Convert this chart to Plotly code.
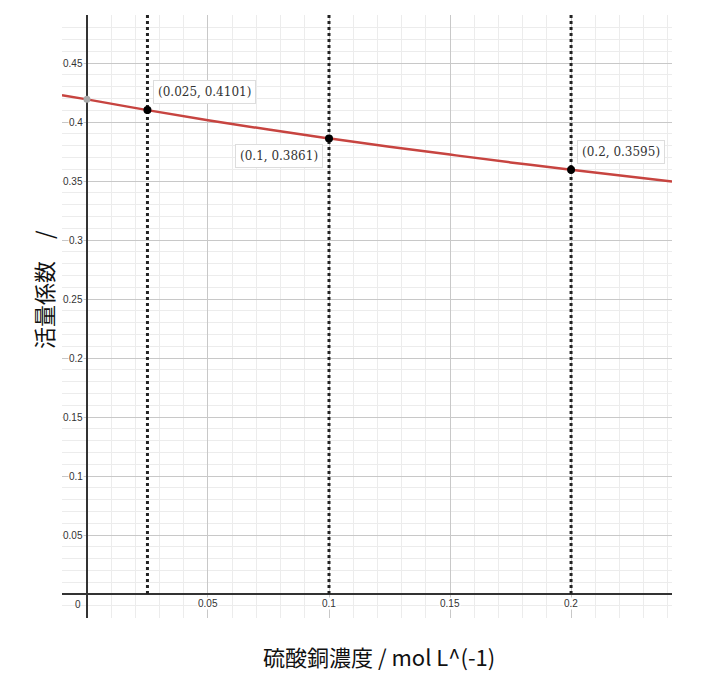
import plotly.graph_objects as go

# ---- data ----
curve_x = [-0.0103, 0.0, 0.025, 0.05, 0.075, 0.1, 0.125, 0.15, 0.175, 0.2, 0.2417]
curve_y = [0.4228, 0.4192, 0.4101, 0.4015, 0.3936, 0.3861, 0.3791, 0.3724, 0.3658, 0.3595, 0.3495]
pts_x = [0.025, 0.1, 0.2]
pts_y = [0.4101, 0.3861, 0.3595]
pt_labels = ["(0.025, 0.4101)", "(0.1, 0.3861)", "(0.2, 0.3595)"]
intercept_x = [0.0]
intercept_y = [0.4192]
xticks = [0.05, 0.1, 0.15, 0.2]
xtick_labels = ["0.05", "0.1", "0.15", "0.2"]
yticks = [0.05, 0.1, 0.15, 0.2, 0.25, 0.3, 0.35, 0.4, 0.45]
ytick_labels = ["0.05", "0.1", "0.15", "0.2", "0.25", "0.3", "0.35", "0.4", "0.45"]
x_title = "硫酸銅濃度 / mol L^(-1)"
y_title = "活量係数　/"

XR = [-0.0103, 0.2417]
YR = [-0.0203, 0.4907]

fig = go.Figure()

# vertical dotted lines
for xv in pts_x:
    fig.add_trace(go.Scatter(x=[xv, xv], y=[0, YR[1] + 0.01], mode="lines",
                             line=dict(color="#222222", width=3, dash="dot"),
                             hoverinfo="skip", showlegend=False))

fig.add_trace(go.Scatter(x=curve_x, y=curve_y, mode="lines",
                         line=dict(color="#c74440", width=2.5, shape="spline"),
                         showlegend=False))
fig.add_trace(go.Scatter(x=intercept_x, y=intercept_y, mode="markers",
                         marker=dict(color="#aaaaaa", size=7), showlegend=False))
fig.add_trace(go.Scatter(x=pts_x, y=pts_y, mode="markers",
                         marker=dict(color="#000000", size=8), showlegend=False))

annotations = []
placements = [("left", "bottom", 6, 6), ("right", "top", -6, -6), ("left", "bottom", 6, 6)]
for xv, yv, lab, (xa, ya, xs, ys) in zip(pts_x, pts_y, pt_labels, placements):
    annotations.append(dict(x=xv, y=yv, xref="x", yref="y", text=lab, showarrow=False,
                            xanchor=xa, yanchor=ya, xshift=xs, yshift=ys,
                            font=dict(family="DejaVu Serif", size=12, color="#333333"),
                            bgcolor="white", bordercolor="#dddddd", borderwidth=1, borderpad=4))

for yv, lab in zip(yticks, ytick_labels):
    annotations.append(dict(x=0, y=yv, xref="x", yref="y", text=lab, showarrow=False,
                            xanchor="right", yanchor="middle", xshift=-3,
                            font=dict(family="Liberation Sans", size=10, color="#333333"),
                            bgcolor="white", borderpad=0))
for xv, lab in zip(xticks, xtick_labels):
    annotations.append(dict(x=xv, y=0, xref="x", yref="y", text=lab, showarrow=False,
                            xanchor="center", yanchor="top", yshift=-3,
                            font=dict(family="Liberation Sans", size=10, color="#333333"),
                            bgcolor="white", borderpad=0))
annotations.append(dict(x=0, y=0, xref="x", yref="y", text="0", showarrow=False,
                        xanchor="right", yanchor="top", xshift=-4, yshift=-3,
                        font=dict(family="Liberation Sans", size=10, color="#333333")))

annotations.append(dict(x=0.52, y=-0.063, xref="paper", yref="paper", text=x_title,
                        showarrow=False, xanchor="center", yanchor="middle",
                        font=dict(family="Noto Sans CJK JP", size=22, color="#111111")))
annotations.append(dict(x=-0.03, y=0.545, xref="paper", yref="paper", text=y_title,
                        showarrow=False, textangle=-90, xanchor="center", yanchor="middle",
                        font=dict(family="Noto Sans CJK JP", size=22, color="#111111")))

axis_common = dict(showticklabels=False, ticks="", showline=False,
                   gridcolor="#c8c8c8", gridwidth=1,
                   zeroline=True, zerolinecolor="#333333", zerolinewidth=1.5,
                   minor=dict(dtick=0.01, gridcolor="#ececec", gridwidth=1, showgrid=True))

fig.update_layout(
    width=712, height=691,
    margin=dict(l=62, r=40, t=15, b=73),
    paper_bgcolor="white", plot_bgcolor="white",
    xaxis=dict(range=XR, tick0=0, dtick=0.05, **axis_common),
    yaxis=dict(range=YR, tick0=0, dtick=0.05, **axis_common),
    annotations=annotations,
    showlegend=False,
)

fig.write_html("out.html")
